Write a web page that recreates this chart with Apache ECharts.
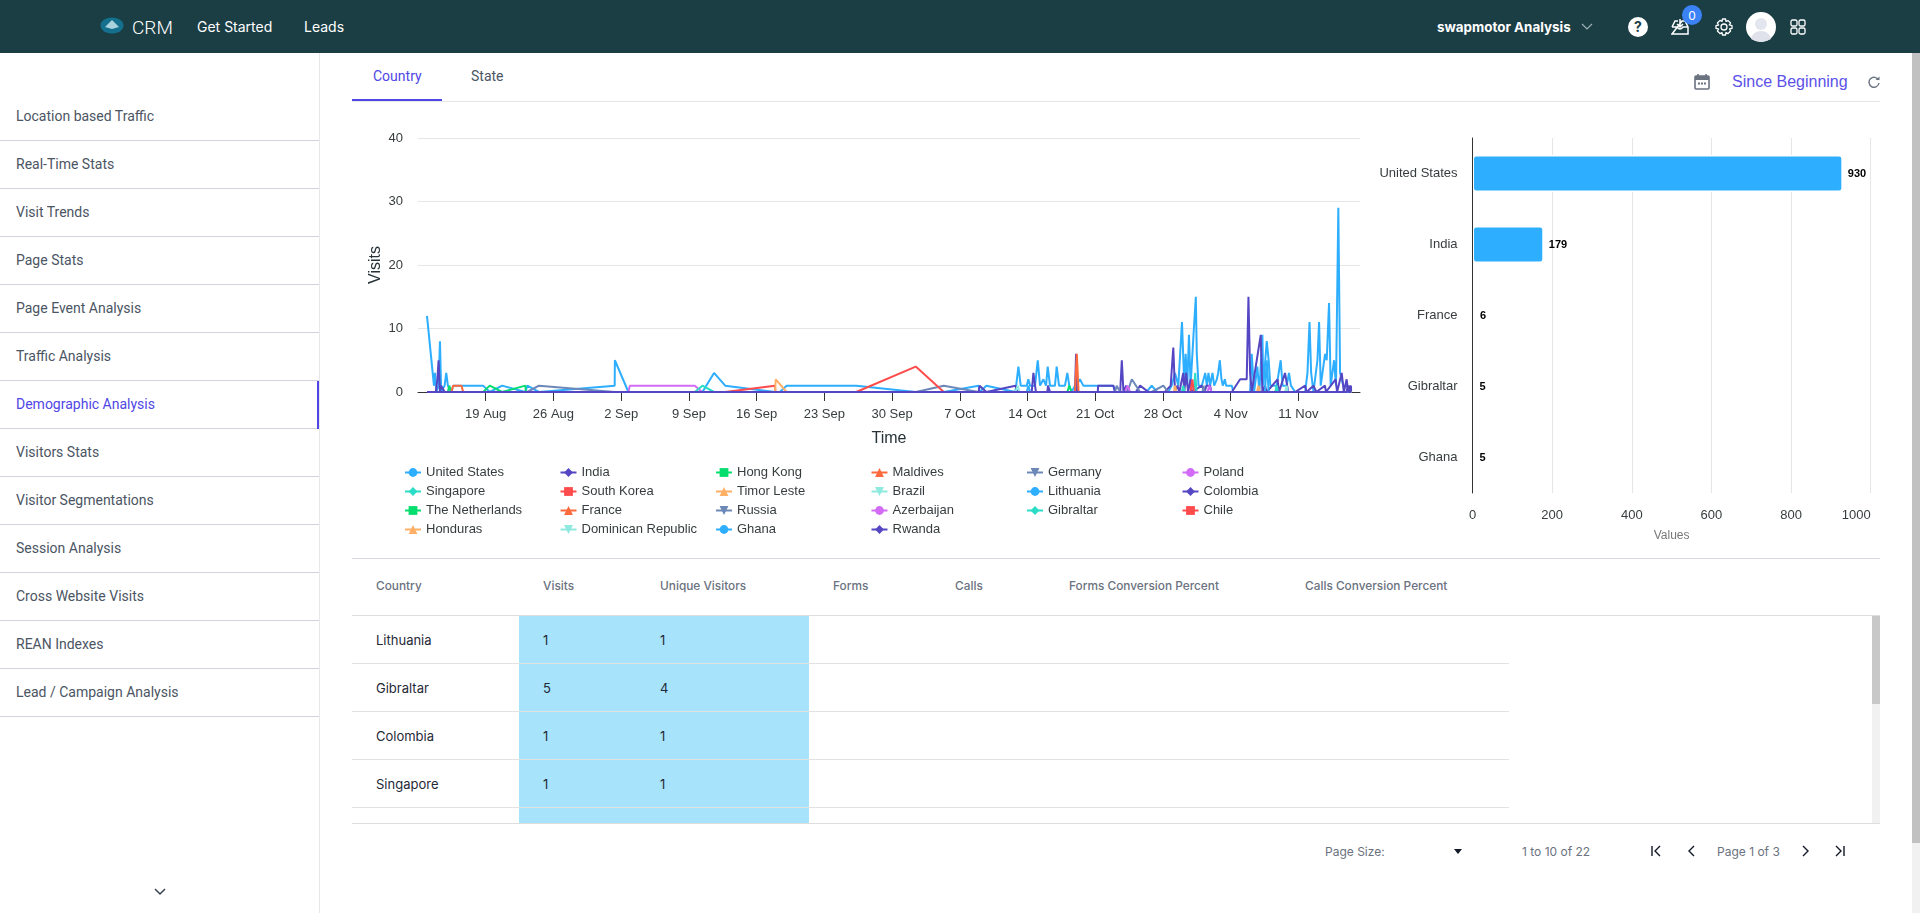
<!DOCTYPE html>
<html>
<head>
<meta charset="utf-8">
<title>Demographic Analysis</title>
<script src="https://cdn.jsdelivr.net/npm/echarts@6/dist/echarts.min.js"></script>
<style>
html, body { margin: 0; padding: 0; background: #fff; overflow: hidden; }
body { width: 1920px; height: 913px; position: relative; font-family: Inter, sans-serif; }
#charts { position: absolute; left: 0; top: 0; width: 1920px; height: 913px; }
.t { position: absolute; white-space: nowrap; transform: translateY(-50%); }
.box { position: absolute; }
#top { position: absolute; left: 0; top: 0; width: 1920px; height: 53px; background: #1b3d44; }
#top .t { color: #fff; }
.ic { position: absolute; line-height: 0; }
</style>
</head>
<body>
<div id="top"></div>
<div id="page"></div>
<div id="charts"></div>
<script>
// days counted from 12 Aug
var tickDays = [7, 14, 21, 28, 35, 42, 49, 56, 63, 70, 77, 84, 91];
var tickLabels = ['19 Aug', '26 Aug', '2 Sep', '9 Sep', '16 Sep', '23 Sep', '30 Sep', '7 Oct', '14 Oct', '21 Oct', '28 Oct', '4 Nov', '11 Nov'];

var unitedStates = [[0.93,12],[1.65,1],[1.75,3],[1.9,0],[2.13,1],[2.27,8],[2.4,0],[2.75,1],[2.92,3],[3.09,1],[3.23,1],[3.45,0],[3.64,1],[6.73,1],[7.42,0],[8.69,1],[11.1,0],[11.3,1],[12.5,0],[20.33,1],[20.35,5],[21.75,0],[29.4,0],[30.6,3],[31.75,1],[36.9,0],[37.4,0],[38.1,1],[45.3,1],[51.45,0],[54.35,0],[57.95,1],[58.05,0],[58.75,1],[61.75,0],[62.06,4],[62.3,1],[62.92,1],[63.09,2],[63.27,1],[63.78,1],[64.06,5],[64.3,1],[64.64,2],[64.92,1],[65.09,4],[65.33,1],[65.84,1],[66.02,4],[66.26,1],[66.87,1],[67.12,3],[67.32,1],[67.56,0],[67.91,1],[68.42,2],[68.77,1],[70.3,1],[71.88,1],[72.05,0],[75.3,0],[75.84,1],[76.4,0],[77.56,0],[77.9,1],[78.25,3],[78.42,3],[78.59,1],[78.76,1],[78.97,11],[79.21,1],[79.35,6],[79.52,1],[79.69,9],[79.86,1],[80.16,9],[80.4,15],[80.5,6],[80.68,1],[81.02,1],[81.37,3],[81.54,1],[81.71,3],[81.88,1],[82.12,3],[82.3,1],[82.57,2],[82.71,3],[82.88,5],[83.05,2],[83.19,1],[83.4,2],[83.53,1],[84.12,1],[84.29,0],[86.01,0],[86.18,6],[86.42,0],[86.76,4],[86.97,0],[87.28,9],[87.38,1],[87.73,8],[87.93,5],[88.1,1],[88.76,1],[89.17,5],[89.37,1],[89.79,1],[90.03,3],[90.23,1],[90.67,0],[91.7,0],[91.94,3],[92.15,11],[92.32,3],[92.56,0],[92.97,5],[93.14,11],[93.31,1],[93.76,6],[93.93,5],[94.17,14],[94.34,1],[94.69,5],[94.89,1],[95.13,29],[95.31,3],[95.65,1],[95.99,1],[96.3,0],[96.45,0]];
var india = [[0.93,0],[1.85,0],[2.0,2],[2.13,5],[2.27,0],[2.4,1],[2.75,0],[57.95,0],[58.05,1],[58.75,0],[61.75,1],[62.0,0],[63.44,0],[63.61,3],[63.78,3],[63.87,0],[65.05,0],[65.12,1],[65.33,0],[67.91,0],[68.02,6],[68.12,0],[70.27,0],[70.3,1],[71.88,1],[72.05,0],[72.58,0],[72.75,5],[72.92,0],[73.2,1],[73.4,0],[74.2,0],[74.64,1],[75.5,0],[77.2,0],[77.8,1],[78.07,7],[78.25,0],[78.5,1],[78.7,0],[79.1,3],[79.2,0],[79.4,3],[79.6,0],[79.86,2],[80.0,0],[81.02,1],[81.3,0],[81.5,1],[81.88,1],[82.0,0],[84.12,0],[84.98,2],[85.66,2],[85.84,15],[86.01,3],[86.18,0],[87.11,9],[87.28,0],[87.55,1],[87.73,0],[88.85,2],[89.0,0],[89.62,3],[89.95,0],[90.67,0],[91.7,1],[91.85,0],[92.56,1],[92.85,0],[93.75,1],[93.85,0],[94.85,2],[95.0,0],[95.48,3],[95.7,0],[95.99,2],[96.15,0],[96.44,1],[96.45,0]];
var hongKong = [[0.93,0],[3.09,0],[3.23,1],[3.45,0],[6.73,0],[7.42,1],[8.69,0],[11.1,1],[11.15,0],[96.45,0]];
var maldives = [[0.93,0],[3.45,0],[3.64,1],[4.5,1],[4.67,0],[96.45,0]];
var germany = [[0.93,0],[11.3,0],[12.5,1],[20.33,0],[51.45,0],[54.35,1],[57.95,0],[72.05,0],[72.22,1],[72.58,0],[96.45,0]];
var poland = [[0.93,0],[21.75,0],[21.9,1],[28.62,1],[29.35,0],[96.45,0]];
var singapore = [[0.93,0],[28.62,0],[29.4,1],[30.6,0],[96.45,0]];
var southKorea = [[0.93,0],[31.75,0],[36.9,1],[36.95,0],[96.45,0]];
var timorLeste = [[0.93,0],[36.9,0],[36.98,2],[38.1,0],[78.15,0],[78.25,1],[78.4,0],[96.45,0]];
var brazil = [[0.93,0],[61.75,0],[62.0,1],[62.15,0],[96.45,0]];
var lithuania = [[0.93,0],[62.92,0],[63.09,1],[63.27,0],[96.45,0]];
var colombia = [[0.93,0],[96.1,0],[96.25,1],[96.45,0]];
var netherlands = [[0.93,0],[67.12,0],[67.32,1],[67.56,0],[96.45,0]];
var france = [[0.93,0],[67.91,0],[68.1,6],[68.28,0],[96.45,0]];
var russia = [[0.93,0],[73.33,0],[73.78,2],[74.64,0],[75.84,0],[77.04,1],[77.56,0],[81.1,0],[81.2,1],[81.3,0],[96.45,0]];
var azerbaijan = [[0.93,0],[73.09,0],[73.33,1],[73.61,0],[81.6,0],[81.8,1],[82.0,0],[96.45,0]];
var gibraltar = [[0.93,0],[78.95,0],[79.1,1],[79.25,0],[80.2,0],[80.33,3],[80.48,0],[88.6,0],[88.76,1],[88.9,0],[96.45,0]];
var chile = [[0.93,0],[45.3,0],[51.45,4],[54.35,0],[79.85,0],[80.04,2],[80.2,0],[96.45,0]];
var honduras = [[0.93,0],[86.72,0],[86.87,1],[87.02,0],[96.45,0]];
var dominicanRepublic = [[0.93,0],[89.62,0],[89.79,1],[89.9,0],[96.45,0]];
var ghana = [[0.93,0],[87.55,0],[87.73,5],[87.93,0],[96.45,0]];
var rwanda = [[0.93,0],[96.0,0],[96.1,1],[96.2,0],[96.45,0]];

var countries = ['United States', 'India', 'Hong Kong', 'Maldives', 'Germany', 'Poland', 'Singapore', 'South Korea', 'Timor Leste', 'Brazil', 'Lithuania', 'Colombia', 'The Netherlands', 'France', 'Russia', 'Azerbaijan', 'Gibraltar', 'Chile', 'Honduras', 'Dominican Republic', 'Ghana', 'Rwanda'];
var countryData = [unitedStates, india, hongKong, maldives, germany, poland, singapore, southKorea, timorLeste, brazil, lithuania, colombia, netherlands, france, russia, azerbaijan, gibraltar, chile, honduras, dominicanRepublic, ghana, rwanda];

var colors = ['#2eaeff', '#5546c4', '#05de6f', '#ff6a3d', '#6c88b8', '#d26bf5', '#2bdcc6', '#ff4b4b', '#ffb066', '#8fe9df'];
var shapes = ['circle', 'diamond', 'square', 'triangle', 'triangle'];

var topCountries = ['United States', 'India', 'France', 'Gibraltar', 'Ghana'];
var topVisits = [930, 179, 6, 5, 5];

var sideItems = ['Location based Traffic', 'Real-Time Stats', 'Visit Trends', 'Page Stats', 'Page Event Analysis', 'Traffic Analysis', 'Demographic Analysis', 'Visitors Stats', 'Visitor Segmentations', 'Session Analysis', 'Cross Website Visits', 'REAN Indexes', 'Lead / Campaign Analysis'];
var tableHeads = ['Country', 'Visits', 'Unique Visitors', 'Forms', 'Calls', 'Forms Conversion Percent', 'Calls Conversion Percent'];
var tableHeadX = [376, 543, 660, 833, 955, 1069, 1305];
var tableRows = [['Lithuania', 1, 1], ['Gibraltar', 5, 4], ['Colombia', 1, 1], ['Singapore', 1, 1]];

var page = document.getElementById('page');
var topBar = document.getElementById('top');

function text(parent, str, x, y, size, color, extra) {
  var el = document.createElement('div');
  el.className = 't';
  el.textContent = str;
  el.style.cssText = 'left:' + x + 'px;top:' + y + 'px;font-size:' + size + 'px;color:' + color + ';' + (extra || '');
  parent.appendChild(el);
  return el;
}
function box(x, y, w, h, color) {
  var el = document.createElement('div');
  el.className = 'box';
  el.style.cssText = 'left:' + x + 'px;top:' + y + 'px;width:' + w + 'px;height:' + h + 'px;background:' + color;
  page.appendChild(el);
}
function icon(parent, x, y, w, h, inner) {
  var el = document.createElement('div');
  el.className = 'ic';
  el.style.cssText = 'left:' + x + 'px;top:' + y + 'px;width:' + w + 'px;height:' + h + 'px';
  el.innerHTML = '<svg width="' + w + '" height="' + h + '" viewBox="0 0 ' + w + ' ' + h + '">' + inner + '</svg>';
  parent.appendChild(el);
}

// top bar
icon(topBar, 100, 17, 24, 17, '<ellipse cx="12" cy="8.5" rx="11.5" ry="8" fill="#14708c"/><path d="M5 10 L12 3 L19 10 L12 12 Z" fill="#a9d3df"/>');
text(topBar, 'CRM', 132, 27, 19, '#fff', 'font-family:Roboto;font-weight:300');
text(topBar, 'Get Started', 197, 26, 14, '#fff');
text(topBar, 'Leads', 304, 26, 14, '#fff');
text(topBar, 'swapmotor Analysis', 1437, 27, 13.4, '#fff', 'font-weight:700');
icon(topBar, 1581, 22, 12, 10, '<path d="M1 2 L6 7 L11 2" fill="none" stroke="#9fb2b6" stroke-width="1.2"/>');
icon(topBar, 1628, 17, 20, 20, '<circle cx="10" cy="10" r="10" fill="#fff"/><text x="10" y="15" font-size="14" font-weight="700" text-anchor="middle" fill="#1b3d44" font-family="Inter">?</text>');
icon(topBar, 1671, 18, 18, 17, '<path d="M1 9 L4 3 H7 M11 3 H14 L17 9 V16 H1 Z M1 9 H6 Q9 13 12 9 H17 M9 1 V9 M6 6 L9 9 L12 6" fill="none" stroke="#fff" stroke-width="1.5"/>');
icon(topBar, 1682, 5, 20, 20, '<circle cx="10" cy="10" r="10" fill="#3b82f6"/><text x="10" y="14.5" font-size="12" text-anchor="middle" fill="#fff" font-family="Inter">0</text>');
icon(topBar, 1715, 18, 18, 18, '<circle cx="9" cy="9" r="3" fill="none" stroke="#fff" stroke-width="1.3"/><path d="M7.5 1 H10.5 L11 3.4 L13.2 2.6 L15.6 5 L14.3 6.9 L17 7.6 V10.4 L14.6 11 L15.6 13 L13 15.6 L11 14.5 L10.5 17 H7.5 L7 14.6 L5 15.6 L2.4 13 L3.6 11 L1 10.4 V7.6 L3.6 7 L2.4 5 L5 2.4 L7 3.4 Z" fill="none" stroke="#fff" stroke-width="1.3" stroke-linejoin="round"/>');
icon(topBar, 1746, 12, 30, 30, '<circle cx="15" cy="15" r="15" fill="#fff"/><circle cx="15" cy="12" r="6" fill="#e3e6ee"/><path d="M5 27 Q7 19 15 19 Q23 19 25 27 Q15 33 5 27 Z" fill="#dfe2eb"/>');
icon(topBar, 1790, 19, 16, 16, '<g fill="none" stroke="#fff" stroke-width="1.3"><rect x="1" y="1" width="6" height="6" rx="1.5"/><rect x="9" y="1" width="6" height="6" rx="1.5"/><rect x="1" y="9" width="6" height="6" rx="1.5"/><rect x="9" y="9" width="6" height="6" rx="1.5"/></g>');

// sidebar
box(319, 53, 1, 860, '#e5e7eb');
sideItems.forEach(function (name, i) {
  var active = name === 'Demographic Analysis';
  text(page, name, 16, 116 + i * 48, 14, active ? '#4f46e5' : '#4b5563', 'font-family:Roboto');
  box(0, 140 + i * 48, 319, 1, '#d1d5db');
  if (active) box(317, 381, 2, 48, '#4f46e5');
});
icon(page, 154, 888, 12, 8, '<path d="M1 1 L6 6 L11 1" fill="none" stroke="#374151" stroke-width="1.5"/>');

// tabs and date range
box(352, 101, 1528, 1, '#e5e7eb');
box(352, 99, 90, 2, '#4f46e5');
text(page, 'Country', 373, 76, 14, '#4f46e5', 'font-family:Roboto');
text(page, 'State', 471, 76, 14, '#4b5563', 'font-family:Roboto');
icon(page, 1694, 73, 16, 17, '<rect x="1" y="3" width="14" height="13" rx="1" fill="none" stroke="#6b7280" stroke-width="1.6"/><rect x="1" y="3" width="14" height="4" fill="#6b7280"/><rect x="4" y="9.5" width="2" height="2" fill="#6b7280"/><rect x="7" y="9.5" width="2" height="2" fill="#6b7280"/><rect x="10" y="9.5" width="2" height="2" fill="#6b7280"/><path d="M4 1 V4 M12 1 V4" stroke="#6b7280" stroke-width="1.6"/>');
text(page, 'Since Beginning', 1732, 82, 16, '#5b51e8', 'font-family:\'Liberation Sans\'');
icon(page, 1868, 76, 12, 12, '<path d="M10.5 4 A5 5 0 1 0 11 7" fill="none" stroke="#6b7280" stroke-width="1.4"/><path d="M7.5 4 H11.5 V0.5 Z" fill="#6b7280"/>');

// table
box(352, 558, 1528, 1, '#d8d8e0');
tableHeads.forEach(function (name, i) {
  text(page, name, tableHeadX[i], 586, 11.85, '#6b7280', 'font-weight:500');
});
box(519, 616, 290, 207, '#a8e3fc');
box(352, 615, 1528, 1, '#dedede');
box(352, 823, 1528, 1, '#dedede');
tableRows.forEach(function (row, i) {
  var y = 640 + i * 48;
  text(page, row[0], 376, y, 13, '#1f2937');
  text(page, String(row[1]), 543, y, 13, '#1f2937');
  text(page, String(row[2]), 660, y, 13, '#1f2937');
  box(352, y + 23, 1157, 1, '#e2e2e2');
});
box(1872, 616, 8, 207, '#f1f1f1');
box(1872, 616, 8, 88, '#c8c8c8');
box(1912, 53, 8, 860, '#f1f1f1');
box(1912, 53, 8, 790, '#c1c1c1');

// pager
text(page, 'Page Size:', 1325, 851, 12, '#6b7280');
icon(page, 1454, 849, 8, 6, '<path d="M0 0 H8 L4 5 Z" fill="#111827"/>');
text(page, '1 to 10 of 22', 1522, 851, 12, '#6b7280');
var pagerStroke = 'fill="none" stroke="#111827" stroke-width="1.4"';
icon(page, 1650, 845, 12, 12, '<path d="M2 1 V11 M10 1 L5 6 L10 11" ' + pagerStroke + '/>');
icon(page, 1686, 845, 12, 12, '<path d="M8 1 L3 6 L8 11" ' + pagerStroke + '/>');
text(page, 'Page 1 of 3', 1717, 851, 12, '#6b7280');
icon(page, 1799, 845, 12, 12, '<path d="M4 1 L9 6 L4 11" ' + pagerStroke + '/>');
icon(page, 1834, 845, 12, 12, '<path d="M2 1 L7 6 L2 11 M10 1 V11" ' + pagerStroke + '/>');

// charts
var labelColor = '#373d3f';
var gridColor = '#e6e6e6';
var axisColor = '#333';

var series = countries.map(function (name, i) {
  var shape = i % 5;
  return {
    name: name,
    type: 'line',
    xAxisIndex: 0,
    yAxisIndex: 0,
    data: countryData[i],
    symbol: shapes[shape],
    symbolRotate: shape === 4 ? 180 : 0,
    showSymbol: false,
    lineStyle: { width: 2, color: colors[i % 10] },
    itemStyle: { color: colors[i % 10] },
    emphasis: { disabled: true },
    animation: false
  };
});
series.push({
  name: 'Visits',
  type: 'bar',
  xAxisIndex: 1,
  yAxisIndex: 1,
  data: topVisits,
  barWidth: '52%',
  itemStyle: { color: '#2eaeff', borderColor: '#fff', borderWidth: 1.5, borderRadius: 3 },
  label: {
    show: true,
    position: 'right',
    distance: 5,
    fontFamily: 'Liberation Sans',
    fontSize: 11,
    fontWeight: 'bold',
    color: '#000'
  },
  animation: false
});

// one legend per column, six columns
var legends = [];
for (var c = 0; c < 6; c++) {
  legends.push({
    orient: 'vertical',
    padding: 0,
    left: 404 + c * 155.5,
    top: 466,
    itemWidth: 16,
    itemHeight: 11,
    itemGap: 6,
    selectedMode: false,
    data: countries.filter(function (n, i) { return i % 6 === c; }),
    textStyle: { fontFamily: 'Liberation Sans', fontSize: 13, color: labelColor, padding: 0 }
  });
}

var option = {
  animation: false,
  textStyle: { fontFamily: 'Liberation Sans' },
  legend: legends,
  grid: [
    { left: 418, top: 138, width: 942, height: 254 },
    { left: 1472.5, top: 138, width: 398.2, height: 355 }
  ],
  xAxis: [
    {
      gridIndex: 0,
      type: 'value',
      min: 0,
      max: 97.37,
      interval: 7,
      name: 'Time',
      nameLocation: 'middle',
      nameGap: 39,
      nameTextStyle: { fontSize: 16, color: '#263238' },
      axisLine: { show: true, lineStyle: { color: axisColor } },
      axisTick: { show: true, length: 9, customValues: tickDays, lineStyle: { color: axisColor } },
      axisLabel: {
        customValues: tickDays,
        fontSize: 13,
        color: labelColor,
        margin: 16,
        formatter: function (v) { return tickLabels[tickDays.indexOf(v)] || ''; }
      },
      splitLine: { show: false }
    },
    {
      gridIndex: 1,
      type: 'value',
      min: 0,
      max: 1000,
      interval: 200,
      name: 'Values',
      nameLocation: 'middle',
      nameGap: 37,
      nameTextStyle: { fontSize: 12, color: '#777' },
      axisLine: { show: false },
      axisTick: { show: false },
      axisLabel: {
        fontSize: 13,
        color: labelColor,
        margin: 16,
        alignMaxLabel: 'right',
        formatter: function (v) { return String(v); }
      },
      splitLine: { lineStyle: { color: gridColor } }
    }
  ],
  yAxis: [
    {
      gridIndex: 0,
      type: 'value',
      min: 0,
      max: 40,
      interval: 10,
      name: 'Visits',
      nameLocation: 'middle',
      nameGap: 34,
      nameTextStyle: { fontSize: 16, color: '#263238' },
      axisLine: { show: false },
      axisTick: { show: false },
      axisLabel: { fontSize: 13, color: labelColor, margin: 15, padding: [2, 0, 0, 0] },
      splitLine: { lineStyle: { color: gridColor } }
    },
    {
      gridIndex: 1,
      type: 'category',
      inverse: true,
      data: topCountries,
      z: 5,
      axisLine: { show: true, lineStyle: { color: axisColor } },
      axisTick: { show: false },
      axisLabel: { fontSize: 13, color: labelColor, margin: 15 },
      splitLine: { show: false }
    }
  ],
  series: series
};

var myChart = echarts.init(document.getElementById('charts'));
myChart.setOption(option);
</script>
</body>
</html>
